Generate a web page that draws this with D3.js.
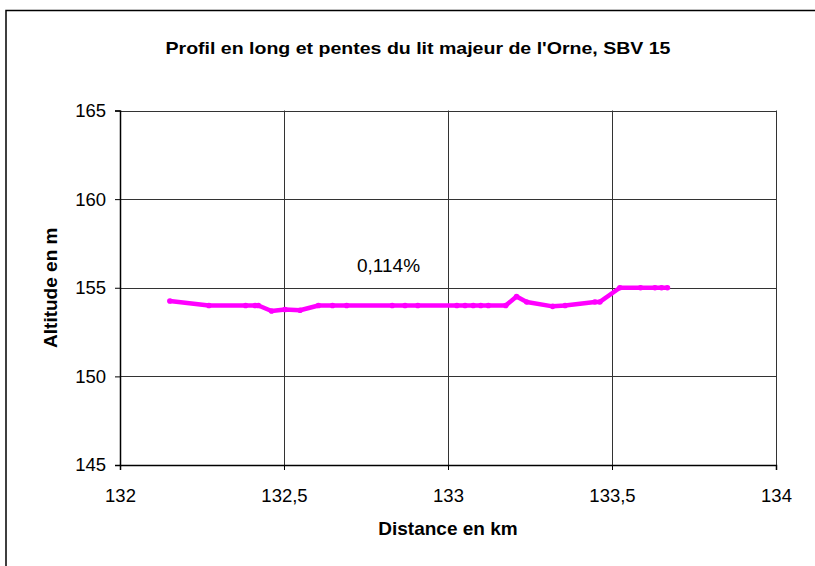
<!DOCTYPE html>
<html><head><meta charset="utf-8">
<script src="https://cdn.jsdelivr.net/npm/d3@7"></script>
<style>
html,body{margin:0;padding:0;background:#fff;}
svg{display:block;font-family:"Liberation Sans",Arial,sans-serif;}
</style></head>
<body><svg id="c" width="815" height="566"></svg>
<script>
const distanceKm = [132.152,132.271,132.383,132.412,132.422,132.462,132.503,132.549,132.605,132.648,132.691,132.83,132.869,132.908,133.027,133.052,133.077,133.1,133.123,133.176,133.209,133.24,133.319,133.357,133.448,133.463,133.524,133.587,133.631,133.651,133.669];
const altitudeM = [154.25,154.0,154.0,154.0,154.0,153.69,153.77,153.73,154.0,154.0,154.0,154.0,154.0,154.0,154.0,154.0,154.0,154.0,154.0,154.0,154.5,154.2,153.95,154.0,154.2,154.2,155.0,155.0,155.0,155.0,155.0];
const xTicks = [132,132.5,133,133.5,134];
const yTicks = [145,150,155,160,165];
const titleText = "Profil en long et pentes du lit majeur de l'Orne, SBV 15";
const xTitle = "Distance en km";
const yTitle = "Altitude en m";
const slopeLabel = "0,114%";

const svg = d3.select("#c");
const L=120, T=110.5, W=656, H=354.5;
const x = d3.scaleLinear().domain([132,134]).range([L,L+W]);
const y = d3.scaleLinear().domain([145,165]).range([T+H,T]);
const fmt = d => String(d).replace(".",",");

// outer frame
svg.append("rect").attr("x",6).attr("y",10.5).attr("width",830).attr("height",600)
  .attr("fill","none").attr("stroke","#000").attr("stroke-width",1.5);

svg.append("text").attr("x",418).attr("y",54).attr("text-anchor","middle")
  .attr("font-weight","bold").attr("font-size",17)
  .attr("textLength",505).attr("lengthAdjust","spacingAndGlyphs").text(titleText);

// grid
const g = svg.append("g");
g.selectAll(".vg").data(xTicks.slice(1)).join("line")
  .attr("x1",d=>Math.round(x(d))+0.5).attr("x2",d=>Math.round(x(d))+0.5)
  .attr("y1",T).attr("y2",T+H).attr("stroke","#333").attr("stroke-width",1);
g.selectAll(".hg").data(yTicks.slice(1)).join("line")
  .attr("x1",L).attr("x2",L+W)
  .attr("y1",d=>Math.round(y(d))+0.5).attr("y2",d=>Math.round(y(d))+0.5)
  .attr("stroke","#333").attr("stroke-width",1);

// axes
const xa = svg.append("g").attr("transform",`translate(0,${T+H})`)
  .call(d3.axisBottom(x).tickValues(xTicks).tickFormat(fmt).tickSize(5).tickPadding(19));
const ya = svg.append("g").attr("transform",`translate(${L},0)`)
  .call(d3.axisLeft(y).tickValues(yTicks).tickFormat(fmt).tickSize(5).tickPadding(9));
[xa,ya].forEach(a=>{
  a.select(".domain").attr("stroke","#000").attr("stroke-width",1.5);
  a.selectAll(".tick line").attr("stroke","#000");
  a.selectAll("text").attr("font-size",18.5).attr("fill","#000").attr("font-family","Liberation Sans, Arial, sans-serif");
});

svg.append("text").attr("x",448).attr("y",535).attr("text-anchor","middle")
  .attr("font-weight","bold").attr("font-size",19).text(xTitle);
svg.append("text").attr("transform",`translate(57,${T+H/2}) rotate(-90)`).attr("text-anchor","middle")
  .attr("font-weight","bold").attr("font-size",19).text(yTitle);

// series
const line = d3.line().x((d,i)=>x(distanceKm[i])).y(d=>y(d));
svg.append("path").datum(altitudeM).attr("d",line).attr("fill","none")
  .attr("stroke","#ff00ff").attr("stroke-width",4.5).attr("stroke-linejoin","round");
svg.selectAll(".pt").data(altitudeM).join("circle")
  .attr("cx",(d,i)=>x(distanceKm[i])).attr("cy",d=>y(d)).attr("r",2.8).attr("fill","#ff00ff");

svg.append("text").attr("x",357).attr("y",272).attr("font-size",19).text(slopeLabel);
</script></body></html>
